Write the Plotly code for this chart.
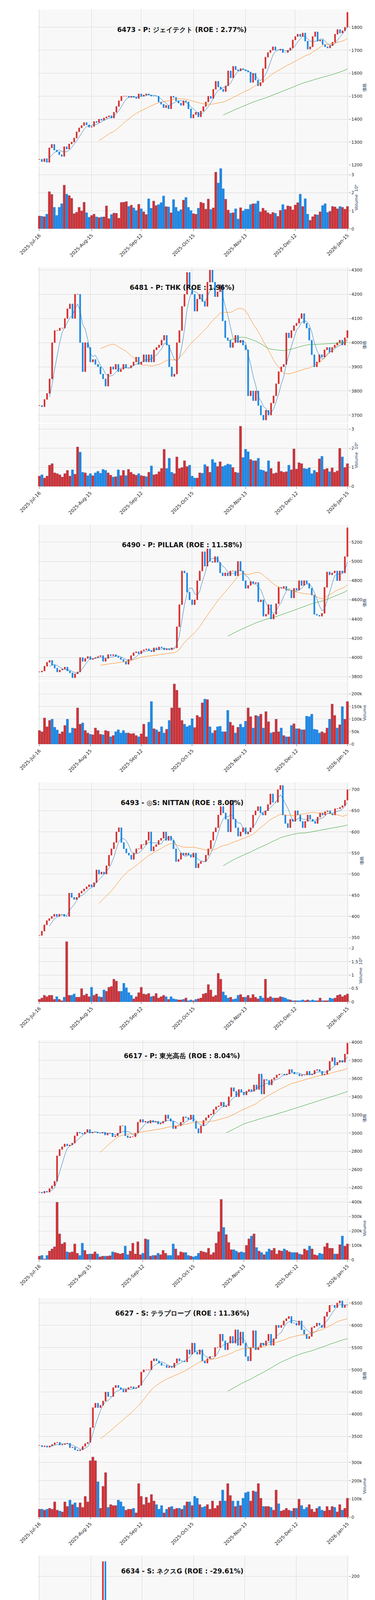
import pandas as pd
import plotly.graph_objects as go

# ---- data (daily closes / volumes, 2025-07-16 .. 2026-01-15)
titles = [
    "6473 - P: ジェイテクト (ROE : 2.77%)",
    "6481 - P: THK (ROE : 1.96%)",
    "6490 - P: PILLAR (ROE : 11.58%)",
    "6493 - ◎S: NITTAN (ROE : 8.00%)",
    "6617 - P: 東光高岳 (ROE : 8.04%)",
    "6627 - S: テラプローブ (ROE : 11.36%)",
    "6634 - S: ネクスG (ROE : -29.61%)",
    "6663 - S: 太洋テクノレックス (ROE : -4.22%)",
    "6728 - ◎P: アルバック (ROE : 7.40%)",
    "6777 - S: santec Holdings (ROE : 25.42%)",
]
tick_dates = ["2025-Jul-16", "2025-Aug-15", "2025-Sep-12", "2025-Oct-15",
              "2025-Nov-13", "2025-Dec-12", "2026-Jan-15"]

close_6473 = [1225,1215,1228,1212,1275,1290,1265,1258,1245,1238,1280,1270,1292,1300,1318,1345,1362,1372,1385,1375,1365,1368,
    1390,1385,1400,1395,1405,1410,1415,1405,1430,1455,1480,1500,1500,1500,1495,1500,1495,1490,1510,1500,1505,
    1510,1505,1500,1500,1500,1475,1465,1450,1460,1445,1500,1495,1480,1470,1460,1480,1475,1445,1405,1420,1430,1410,
    1435,1455,1475,1500,1490,1530,1565,1540,1530,1520,1545,1610,1580,1630,1615,1610,1620,1615,1610,1605,1560,
    1600,1570,1545,1560,1620,1670,1690,1700,1715,1700,1700,1705,1690,1690,1700,1710,1745,1760,1770,1760,1775,
    1740,1705,1715,1760,1780,1740,1745,1725,1715,1710,1720,1735,1770,1790,1775,1785,1800,1865,1890,1910,1955]
vol_6473 = [0.72,0.7,0.68,0.82,2.07,1.92,1.2,0.75,1.2,1.4,2.43,1.93,1.85,1.7,0.85,0.93,1.2,1.0,1.48,0.9,0.65,0.75,
    0.82,0.67,0.63,0.66,0.67,1.28,0.57,0.8,0.88,0.87,0.6,1.47,1.48,1.52,1.25,1.32,1.17,1.02,1.37,1.12,0.95,0.8,
    1.67,1.15,1.55,1.3,1.35,1.46,1.83,1.24,1.22,0.9,1.63,1.2,0.98,1.07,1.6,1.75,1.2,1.02,0.85,0.82,1.15,1.48,1.43,
    1.1,1.66,1.08,1.17,3.15,2.55,3.35,2.23,1.65,1.05,0.88,0.9,1.12,0.55,1.18,1.0,1.1,1.1,1.35,1.4,1.4,1.55,0.95,
    1.15,1.02,0.9,0.82,0.92,0.87,0.7,1.03,1.35,1.08,1.28,1.25,1.06,1.33,1.46,1.93,1.25,1.68,0.82,0.48,0.68,0.8,
    0.78,0.95,1.3,1.4,0.92,0.98,1.25,1.22,1.12,1.25,1.2,1.1,1.25]

close_6481 = [3740,3735,3765,3790,3850,4000,4050,4050,4060,4060,4100,4140,4160,4100,4200,4200,4000,3880,4000,3980,3920,3930,
    3910,3900,3870,3850,3820,3870,3900,3890,3910,3880,3890,3910,3895,3895,3905,3920,3940,3910,3920,3950,3920,
    3950,3920,3970,3980,3990,4010,4030,3990,3900,3860,3870,4000,4050,4150,4200,4290,4230,4200,4130,4180,4200,
    4170,4150,4250,4300,4250,4190,4210,4240,4090,4020,4010,3980,4000,4030,4000,4010,3990,3970,3780,3800,3760,
    3800,3740,3700,3680,3720,3700,3750,3780,3830,3880,3900,3910,4040,4020,4050,4070,4080,4100,4120,4080,4060,
    4010,3950,3900,3920,3950,3940,3970,3980,3960,3980,3990,4000,4010,3990,4020,4050,4070,4090,4040,4050,4110,4170,4220,4330]
vol_6481 = [0.55,0.62,0.45,0.55,1.12,1.2,0.72,0.68,0.62,0.5,0.68,0.85,0.55,0.88,0.65,2.07,1.8,0.75,0.72,0.57,0.68,0.57,
    0.72,0.8,0.7,0.9,0.85,0.72,0.6,0.5,0.52,0.88,0.58,0.85,0.58,0.9,0.75,0.65,0.6,0.68,0.58,0.55,0.52,0.75,1.08,
    0.62,0.65,0.78,0.95,1.95,0.95,1.48,0.75,0.68,1.55,0.95,1.0,1.35,1.05,1.12,0.55,0.45,0.45,0.72,0.7,1.15,1.05,
    0.75,1.42,1.25,1.05,1.3,1.05,1.1,1.18,1.15,1.0,0.75,0.72,3.15,1.52,1.95,1.82,1.42,1.35,1.35,1.48,0.88,0.85,
    0.78,1.35,0.95,0.68,0.72,1.3,0.8,0.75,0.78,1.12,0.88,1.97,0.92,1.25,1.2,0.95,0.92,0.98,0.68,0.85,0.75,1.45,
    1.58,0.9,0.95,0.78,0.98,0.75,0.82,2.0,1.55,1.0,1.2]

close_6490 = [3850,3860,3910,3950,3970,3920,3890,3850,3870,3880,3900,3860,3840,3790,3830,3850,4000,3960,3990,4010,3980,3990,
    4000,4010,4020,3960,3990,4030,4020,4030,4010,4000,3980,3960,3930,3980,4020,4050,4060,4040,4070,4080,4090,
    4070,4060,4100,4080,4110,4100,4080,4090,4080,4100,4100,4320,4550,4900,4880,4680,4600,4550,4600,4800,4900,5100,
    4950,5130,5000,4990,5050,4990,4880,4850,4880,4850,4900,4900,4850,5000,4900,4800,4720,4750,4790,4770,4780,
    4580,4600,4430,4450,4550,4400,4450,4560,4730,4720,4740,4700,4700,4620,4720,4700,4800,4750,4800,4770,4720,
    4650,4450,4440,4430,4460,4730,4890,4860,4880,4900,4800,4900,4880,5050,5350,5180,5400,5300,5600,5850,5870,6050]
vol_6490 = [55000,50000,105000,70000,95000,100000,68000,57000,42000,50000,75000,100000,45000,65000,63000,145000,80000,85000,
    55000,45000,40000,38000,65000,55000,40000,38000,55000,52000,30000,35000,50000,58000,45000,55000,45000,45000,42000,
    43000,35000,30000,42000,80000,30000,88000,170000,62000,58000,50000,70000,45000,60000,95000,145000,240000,215000,
    145000,95000,80000,70000,75000,102000,67000,115000,108000,165000,180000,178000,70000,45000,55000,70000,72000,
    50000,50000,135000,88000,75000,45000,68000,80000,68000,92000,145000,110000,65000,115000,112000,120000,65000,
    130000,90000,45000,48000,100000,50000,65000,35000,30000,30000,75000,82000,62000,62000,58000,58000,112000,110000,
    120000,60000,58000,45000,50000,45000,65000,100000,160000,115000,65000,78000,150000,100000,170000]

close_6493 = [355,365,380,390,395,400,405,400,405,405,400,400,455,445,440,445,455,460,465,470,475,470,
    480,510,500,505,500,520,545,560,575,600,610,575,560,550,545,535,550,560,560,570,570,
    580,600,555,565,570,580,585,600,580,590,580,560,530,535,550,545,550,545,540,550,515,525,530,
    530,545,560,580,600,610,640,660,645,630,600,675,630,610,590,600,610,595,600,610,
    640,650,660,645,640,650,665,690,670,670,700,710,640,620,610,630,625,650,640,625,610,
    625,640,630,625,620,635,645,640,648,650,643,640,655,655,658,662,675,700,750,745,760,790]
vol_6493 = [0.1,0.15,0.25,0.2,0.25,0.25,0.1,0.2,0.1,0.05,0.18,2.25,0.25,0.25,0.3,0.18,0.18,0.5,0.25,0.3,0.2,0.55,0.25,
    0.3,0.2,0.18,0.45,0.4,0.55,0.58,0.85,0.78,0.4,0.4,0.7,0.53,0.35,0.25,0.12,0.2,0.35,0.55,0.3,0.28,0.32,0.2,0.22,
    0.32,0.15,0.2,0.25,0.2,0.1,0.2,0.12,0.1,0.08,0.08,0.1,0.15,0.05,0.08,0.05,0.1,0.12,0.15,0.3,0.33,0.65,0.45,0.2,
    0.25,1.07,0.85,0.38,0.25,0.15,0.18,0.1,0.12,0.25,0.28,0.18,0.18,0.25,0.15,0.28,0.18,0.12,0.22,0.15,0.85,0.15,
    0.2,0.15,0.15,0.15,0.2,0.18,0.15,0.1,0.08,0.05,0.05,0.05,0.05,0.08,0.05,0.08,0.05,0.08,0.05,0.05,0.15,0.05,
    0.05,0.05,0.15,0.12,0.15,0.25,0.28,0.2,0.25,0.3]

close_6617 = [2350,2340,2360,2350,2390,2420,2470,2750,2820,2850,2880,2860,2870,2890,2970,3010,3000,2990,3010,3040,3000,3010,
    3010,3000,3000,3010,2980,3000,3000,2960,2970,3000,3080,3080,2970,2950,2960,2960,3000,3120,3150,3120,3130,
    3110,3140,3120,3130,3100,3110,3130,3200,3160,3130,3050,3080,3080,3120,3180,3170,3150,3200,3130,3050,3000,3080,
    3140,3170,3200,3210,3260,3290,3300,3340,3290,3300,3400,3500,3460,3400,3480,3450,3420,3460,3480,3460,3530,
    3480,3650,3430,3590,3580,3530,3590,3610,3640,3650,3650,3640,3650,3700,3670,3650,3650,3630,3640,3640,3680,
    3640,3650,3690,3700,3680,3640,3650,3690,3790,3830,3750,3780,3800,3780,3870,3990,4000,4050,4000,4010,4220,4410,4420,4520]
vol_6617 = [25000,30000,5000,30000,60000,75000,90000,400000,180000,110000,120000,55000,50000,55000,110000,45000,30000,
    115000,65000,38000,40000,40000,55000,40000,20000,25000,25000,25000,28000,55000,50000,45000,40000,45000,95000,35000,
    60000,115000,40000,125000,35000,45000,145000,140000,25000,30000,30000,45000,35000,65000,45000,30000,30000,110000,
    75000,30000,55000,50000,50000,30000,25000,20000,25000,45000,60000,55000,50000,80000,35000,50000,115000,195000,
    420000,225000,175000,120000,70000,70000,60000,50000,55000,50000,100000,145000,165000,180000,85000,60000,50000,
    35000,55000,75000,65000,80000,40000,65000,60000,75000,65000,55000,50000,50000,50000,40000,35000,75000,65000,95000,
    75000,35000,30000,45000,40000,90000,115000,80000,80000,40000,40000,105000,165000,95000,110000]

close_6627 = [3300,3270,3290,3260,3290,3320,3360,3370,3310,3320,3340,3350,3250,3260,3200,3180,3200,3280,3340,3370,3700,4150,
    4250,4150,4200,4300,4500,4400,4400,4600,4650,4600,4560,4500,4560,4600,4620,4580,4600,4650,4950,5000,5000,
    5000,5200,5250,5200,5150,5100,5100,5050,5080,5050,5150,5250,5200,5200,5180,5450,5350,5600,5400,5350,5450,
    5200,5150,5250,5300,5300,5500,5500,5800,5650,5450,5600,5750,5600,5900,5550,5850,5600,5300,5200,5500,
    5880,5450,5500,5600,5550,5650,5800,5550,5700,6000,5950,6000,6100,6150,6200,6050,6050,6000,6100,5900,5800,
    5700,5750,5950,5980,6050,6000,5950,6200,6300,6450,6450,6400,6500,6550,6400,6450,6450,6600,6650,6700,6800,7100]
vol_6627 = [45000,45000,40000,45000,50000,45000,85000,40000,35000,30000,85000,60000,95000,70000,80000,55000,80000,55000,
    115000,85000,310000,330000,310000,195000,50000,170000,245000,55000,70000,65000,65000,95000,85000,60000,40000,45000,
    45000,50000,25000,185000,115000,70000,110000,80000,125000,90000,70000,45000,65000,25000,45000,55000,60000,45000,
    50000,50000,45000,65000,85000,85000,65000,115000,105000,70000,55000,60000,70000,45000,90000,50000,65000,90000,
    150000,90000,185000,120000,90000,60000,90000,65000,105000,135000,140000,90000,145000,140000,185000,105000,60000,
    60000,60000,55000,40000,150000,75000,35000,40000,50000,40000,35000,50000,50000,100000,65000,45000,55000,70000,
    45000,30000,50000,60000,40000,35000,60000,40000,60000,55000,30000,70000,40000,50000,105000]

close_6634 = [140,140,140,138,138,138,139,139,139,137,140,141,139,139,139,139,138,136,134,135,136,
    138,140,142,146,160,210,148,170,155,148,152,158,150,155,155,155,156,157,156,155,154,
    152,152,150,148,147,147,148,146,144,143,140,142,143,144,144,145,145,142,140,140,125,133,134,132,
    130,132,133,130,128,124,126,127,128,127,127,126,126,127,128,129,127,124,122,120,119,
    115,117,119,115,116,114,118,120,121,119,118,120,116,118,117,117,118,117,117,116,117,
    115,116,115,114,114,113,112,111,112,113,113,114,116,117,118,118,118,120,120,122,123,140]
vol_6634 = [0.15,0.1,0.1,0.1,0.1,0.1,0.1,0.1,0.12,0.1,0.1,0.1,0.12,0.12,0.1,0.15,0.15,0.2,0.15,0.12,0.2,0.3,0.5,0.3,
    0.4,0.5,12.2,20.8,7.2,2.0,1.2,2.5,1.0,0.5,0.4,0.4,0.3,0.3,0.25,0.2,0.15,0.15,0.15,0.1,0.1,0.15,0.15,0.1,0.1,0.1,
    0.1,0.1,0.1,0.1,0.12,0.12,0.1,0.12,0.15,0.2,0.2,4.8,0.6,0.2,0.15,0.1,0.1,0.1,0.15,0.15,0.1,0.1,0.1,0.1,0.1,0.1,
    0.1,0.1,0.1,0.1,0.1,0.1,0.1,0.15,0.2,0.3,0.35,0.5,1.2,0.3,0.2,0.2,0.15,0.2,0.15,0.15,0.1,0.1,0.1,0.1,0.1,0.1,
    0.1,0.15,0.1,0.1,0.1,0.1,0.1,0.1,0.2,0.25,0.2,0.1,0.1,0.1,0.1,0.1,0.1,0.1,0.1,0.1,0.1,0.1,0.15,0.3,3.8]

close_6663 = [262,264,264,262,262,263,265,268,272,280,284,276,278,275,278,278,281,282,296,292,300,301,
    301,308,296,290,285,278,280,283,285,286,283,282,282,283,276,268,268,270,275,278,278,
    279,280,280,281,284,283,284,281,283,283,282,276,268,300,302,282,291,278,285,284,285,
    283,284,282,283,284,278,276,270,268,267,263,258,255,253,252,254,254,255,253,250,246,
    244,244,246,247,249,250,250,251,246,250,250,249,248,248,247,247,248,247,246,245,244,
    245,246,245,244,244,243,242,241,242,250,270,258,265,270,263,262,260,265,300]
vol_6663 = [0.01,0.01,0.01,0.01,0.01,0.01,0.01,0.01,0.02,0.08,0.03,0.02,0.02,0.01,0.01,0.02,0.01,0.01,0.04,0.02,0.02,
    0.02,0.02,0.03,0.02,0.02,0.03,0.02,0.03,0.02,0.02,0.02,0.01,0.01,0.01,0.01,0.01,0.01,0.01,0.01,0.01,0.01,0.02,
    0.02,0.05,0.02,0.02,0.02,0.02,0.02,0.02,0.02,0.01,0.01,0.01,0.01,0.01,0.01,0.01,1.7,3.35,0.65,0.15,0.12,0.1,
    0.08,0.02,0.02,0.02,0.02,0.03,0.03,0.03,0.05,0.04,0.03,0.03,0.03,0.45,0.04,0.04,0.02,0.04,0.08,0.25,0.05,0.05,
    0.02,0.02,0.04,0.03,0.1,0.02,0.02,0.02,0.02,0.02,0.01,0.01,0.02,0.01,0.01,0.01,0.02,0.1,0.02,0.02,0.01,0.02,
    0.01,0.02,0.03,0.03,0.02,0.02,0.02,0.02,0.01,0.01,0.12,0.12,0.1,0.08,0.06,0.03,0.02,0.02,1.1]

close_6728 = [5400,5300,5380,5400,5600,5620,5580,5550,5500,5400,5560,5500,5380,5490,5480,5450,5420,5460,5550,5620,6250,6150,
    6150,6150,6100,6050,6100,6100,6250,6050,6030,6060,6100,6000,5900,5950,6200,6200,6150,6200,6150,6200,6450,
    6550,6650,6550,6820,6680,6700,6550,6500,6480,6320,6550,6600,6600,6700,6800,6650,6900,6600,6550,6780,6700,
    6700,6800,6650,6850,6950,6850,6900,6950,7000,6900,6950,7000,6700,6770,6800,6800,6900,7200,7050,6850,6850,
    6600,6500,6350,6500,6650,6700,6720,6700,6750,6800,6800,6850,7000,7050,6900,6800,6700,6600,6620,6550,6600,
    6700,6920,6850,7100,7230,7150,7150,7300,7500,7600,7530,7550,7800,7950,7980,8020,8250]
vol_6728 = [0.5,0.45,0.25,0.32,0.6,0.58,0.45,0.53,0.27,0.23,0.32,0.57,0.32,0.25,0.23,0.2,0.35,0.4,0.45,1.15,0.75,0.4,0.35,
    0.38,0.23,0.38,0.45,0.23,0.2,0.2,0.3,0.32,0.25,0.32,0.22,0.68,0.42,0.6,0.27,0.33,0.33,0.38,0.32,0.55,0.57,0.53,
    0.32,0.5,0.3,0.3,0.3,0.38,0.3,0.38,0.32,0.22,0.6,0.45,0.56,0.32,0.3,0.35,0.22,0.25,0.25,0.37,0.33,0.25,0.37,0.2,
    0.22,0.37,0.45,0.5,0.3,0.37,0.23,0.33,0.97,0.4,0.3,0.25,0.47,0.25,0.3,0.42,0.3,0.33,0.32,0.18,0.2,0.25,0.18,0.25,
    0.17,0.18,0.42,0.22,0.15,0.25,0.25,0.15,0.25,0.3,0.28,0.2,0.22,0.2,0.22,0.12,0.12,0.25,0.33,0.32,0.22,0.3,0.43,
    0.45,0.4,0.42]

close_6777 = [5550,5650,5700,5650,5700,5750,5650,5650,5620,5600,5650,5950,5800,6250,6700,6750,6900,7000,7100,7200,7400,7500,
    7700,7800,7600,7450,7300,7350,7500,7300,7400,7300,7750,7600,7550,7550,7700,8200,8300,8400,8500,8650,8600,
    8300,8500,8450,8000,8150,8100,8000,8050,8000,7700,8100,8150,8300,8450,8550,8600,8450,8150,8150,8500,8200,
    8100,8550,8400,8100,8250,8600,8650,8800,9000,9100,8900,8850,8950,9200,9250,9050,8600,8300,8550,8900,8550,
    8400,7800,7750,8200,7500,7650,7950,8300,8900,9200,9300,9250,9000,9500,9800,9900,9600,9700,9650,9400,9350,
    9300,9100,9050,9150,9250,9300,9200,9000,9100,9050,9100,9000,9050,9100,8950,9000,9150,9500,9650,10000]
vol_6777 = [85000,70000,70000,70000,105000,88000,55000,57000,58000,90000,195000,115000,310000,205000,145000,210000,100000,
    120000,110000,98000,55000,63000,70000,105000,60000,48000,45000,45000,35000,85000,85000,83000,45000,48000,45000,
    103000,68000,83000,52000,48000,52000,48000,60000,73000,80000,38000,50000,35000,33000,23000,30000,45000,60000,
    47000,55000,65000,30000,40000,80000,35000,35000,25000,48000,40000,45000,60000,50000,45000,43000,40000,148000,
    60000,50000,55000,85000,108000,95000,150000,240000,120000,95000,75000,130000,65000,235000,100000,80000,120000,
    85000,80000,102000,67000,120000,93000,58000,45000,103000,110000,78000,60000,70000,60000,70000,55000,75000,65000,
    80000,60000,55000,58000,75000,58000,60000,47000,45000,50000,60000,55000,82000,35000,60000,50000,85000,48000,120000]

closes = [close_6473, close_6481, close_6490, close_6493, close_6617,
          close_6627, close_6634, close_6663, close_6728, close_6777]
volumes = [vol_6473, vol_6481, vol_6490, vol_6493, vol_6617,
           vol_6627, vol_6634, vol_6663, vol_6728, vol_6777]
vol_millions = [True, True, False, True, False, False, True, True, True, False]
price_top = [None, None, None, None, None, None, 214, None, None, None]

RED = "#d62f2f"
BLUE = "#1e88e5"
W, H = 960, 6610
PANEL = 661


def py(pix):
    return 1 - pix / H


fig = go.Figure()
layout = {}
for k in range(10):
    c = closes[k]
    v = volumes[k]
    n = min(len(c), len(v))
    c = c[:n]
    v = v[:n]
    o = [c[0]] + c[:-1]
    hi = [max(a, b) for a, b in zip(o, c)]
    lo = [min(a, b) for a, b in zip(o, c)]
    x = list(range(n))
    up = [cc >= oo for oo, cc in zip(o, c)]
    s = pd.Series(c)

    i = k + 1
    xa = "x" if i == 1 else f"x{2*k+1}"
    xb = f"x{2*k+2}"
    ya = "y" if i == 1 else f"y{2*k+1}"
    yb = f"y{2*k+2}"

    fig.add_trace(go.Candlestick(
        x=x, open=o, high=hi, low=lo, close=c, xaxis=xa, yaxis=ya,
        increasing=dict(line=dict(color=RED, width=1), fillcolor=RED),
        decreasing=dict(line=dict(color=BLUE, width=1), fillcolor=BLUE),
        whiskerwidth=0, showlegend=False))
    for win, col in [(5, "#1f77b4"), (25, "#ff7f0e"), (75, "#2ca02c")]:
        fig.add_trace(go.Scatter(x=x, y=s.rolling(win).mean(), mode="lines",
                                 line=dict(color=col, width=1), xaxis=xa, yaxis=ya,
                                 showlegend=False))
    fig.add_trace(go.Bar(x=x, y=v, marker_color=[RED if u else BLUE for u in up],
                         marker_line=dict(color="#3d7fc0", width=0.4),
                         xaxis=xb, yaxis=yb, showlegend=False))

    top = k * PANEL
    tickvals = [round(j * (n - 1) / 6) for j in range(7)]
    lo_p, hi_p = min(lo), max(hi)
    pad = (hi_p - lo_p) * 0.02
    ytop = price_top[k] if price_top[k] else hi_p + pad
    axcommon = dict(showgrid=True, gridcolor="#d9d9d9", zeroline=False,
                    range=[-0.6, n - 0.4])
    layout["xaxis" if i == 1 else f"xaxis{2*k+1}"] = dict(
        axcommon, domain=[0.044, 0.92], anchor=ya, matches=xb,
        tickvals=tickvals, showticklabels=False, rangeslider=dict(visible=False))
    layout[f"xaxis{2*k+2}"] = dict(
        axcommon, domain=[0.044, 0.92], anchor=yb, tickvals=tickvals,
        ticktext=tick_dates, tickangle=-45, ticks="outside", ticklen=4,
        ticklabeloverflow="allow", tickfont=dict(size=12, color="#222"))
    layout["yaxis" if i == 1 else f"yaxis{2*k+1}"] = dict(
        domain=[py(top + 410), py(top + 10)], anchor=xa, side="right",
        range=[lo_p - pad, ytop], showgrid=True, gridcolor="#d9d9d9",
        ticks="outside", ticklen=3, tickfont=dict(size=11, color="#222"),
        title=dict(text="価格", font=dict(size=11), standoff=2), zeroline=False)
    vmax = max(v)
    vt = "Volume  10⁶" if vol_millions[k] else "Volume"
    layout[f"yaxis{2*k+2}"] = dict(
        domain=[py(top + 573), py(top + 412)], anchor=xb, side="right",
        range=[0, vmax * 1.04], showgrid=True, gridcolor="#d9d9d9",
        ticks="outside", ticklen=3, tickfont=dict(size=11, color="#222"),
        title=dict(text=vt, font=dict(size=11), standoff=2), zeroline=False)

    fig.add_annotation(text=f"<b>{titles[k]}</b>", xref="paper", yref="paper",
                       x=0.45, y=py(top + 50), showarrow=False,
                       font=dict(size=17, color="#111"))

fig.update_layout(layout)
fig.update_layout(width=W, height=H, margin=dict(l=0, r=0, t=0, b=0),
                  paper_bgcolor="white", plot_bgcolor="#f8f8f8", bargap=0.05,
                  font=dict(family="DejaVu Sans"))
fig.write_html("out.html")
